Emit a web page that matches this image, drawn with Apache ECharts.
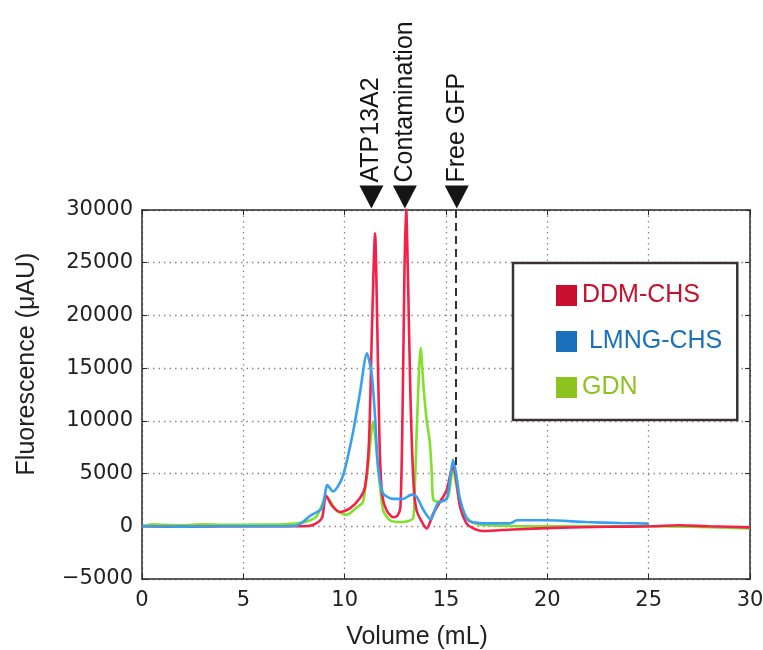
<!DOCTYPE html>
<html>
<head>
<meta charset="utf-8">
<title>FSEC</title>
<script src="https://cdn.jsdelivr.net/npm/echarts@6/dist/echarts.min.js"></script>
<style>
  html, body { margin: 0; padding: 0; background: #fff; }
  #main { width: 763px; height: 650px; }
</style>
</head>
<body>
<div id="main"></div>
<script>
// [volume mL, fluorescence uAU]
const ddmChs = [
  [0, 0], [2, -50], [4, 0], [6, 0], [7.5, 0], [8.3, 50], [8.7, 400], [8.9, 900], [9.08, 2900],
  [9.4, 1900], [9.77, 1350], [10.26, 1700], [10.75, 2650], [11.0, 3700], [11.2, 8000],
  [11.35, 19000], [11.5, 27800], [11.6, 20000], [11.72, 8000], [11.85, 3000], [12.07, 1500],
  [12.4, 850], [12.6, 1000], [12.75, 1800], [12.85, 10000], [12.95, 24000], [13.03, 30400],
  [13.12, 24000], [13.25, 12000], [13.4, 4000], [13.55, 1500], [13.9, 100], [14.05, -200],
  [14.37, 1200], [14.7, 2300], [15.03, 3400], [15.2, 4800], [15.35, 5800], [15.5, 4500],
  [15.7, 1800], [16.0, 300], [16.3, -150], [16.8, -450], [18.3, -300], [20.3, -150],
  [23, -50], [25.2, 0], [26.5, 100], [28, 0], [30, -100]
];
const lmngChs = [
  [0, 0], [2, -30], [4, 0], [6, 0], [7.6, 50], [8.3, 1000], [8.87, 1700], [9.15, 3900],
  [9.43, 3300], [9.9, 4700], [10.4, 8800], [10.75, 12600], [11.1, 16400], [11.33, 14500],
  [11.5, 10400], [11.65, 5600], [11.9, 3100], [12.4, 2600], [12.88, 2600], [13.3, 3000],
  [13.55, 2800], [13.9, 1500], [14.24, 650], [14.6, 2200], [15.03, 2600], [15.2, 4500],
  [15.35, 6300], [15.5, 5000], [15.7, 2500], [16.1, 550], [16.7, 300], [17, 280],
  [18.15, 280], [18.5, 570], [20, 570], [21.9, 400], [23.6, 310], [25, 250]
];
const gdn = [
  [0, 0], [0.5, 200], [1, 150], [2, 100], [3, 180], [4, 150], [5, 150], [6, 170], [7, 200],
  [7.8, 300], [8.6, 900], [9.1, 2800], [9.6, 1500], [10.1, 1100], [10.6, 1800], [10.9, 2300],
  [11.15, 5600], [11.4, 9900], [11.65, 5600], [11.9, 1500], [12.23, 570], [12.73, 400],
  [13.37, 750], [13.45, 3000], [13.55, 8800], [13.75, 16900], [13.9, 13000], [14.05, 10000],
  [14.2, 8000], [14.3, 5000], [14.38, 2500], [14.7, 2300], [15.1, 2800], [15.35, 5600],
  [15.5, 4000], [15.77, 1500], [16.27, 400], [17, 100], [20.3, 0], [25.2, 0], [27, -50], [30, -200]
];
const peakNames = ['ATP13A2', 'Contamination', 'Free GFP'];
const peakVolumes = [11.32, 12.97, 15.53];
const freeGfpLine = [15.5, 5500];

const tickFont = { fontFamily: 'DejaVu Sans', fontSize: 21, color: '#222' };
const axisCol = '#2a2a2a';

function baseAxis(pos, isX) {
  return {
    type: 'value',
    position: pos,
    min: isX ? 0 : -5000,
    max: isX ? 30 : 30000,
    interval: isX ? 5 : 5000,
    axisLine: { show: true, onZero: false, lineStyle: { color: axisCol, width: 1.5 } },
    axisTick: { show: true, inside: true, length: 5, lineStyle: { color: axisCol, width: 1 } },
    splitLine: { show: false },
    axisLabel: { show: false }
  };
}

const xMain = baseAxis('bottom', true);
xMain.axisLabel = Object.assign({ show: true, margin: 11 }, tickFont);
xMain.splitLine = { show: true, lineStyle: { color: '#888', type: [1.5, 4], width: 1.3 } };
const yMain = baseAxis('left', false);
yMain.axisLabel = Object.assign({
  show: true, margin: 9,
  formatter: v => (v < 0 ? '\u2212' + Math.abs(v) : String(v))
}, tickFont);
yMain.splitLine = { show: true, lineStyle: { color: '#888', type: [1.5, 4], width: 1.3 } };

const lineColors = { 'DDM-CHS': '#f5204a', 'LMNG-CHS': '#38a0f0', 'GDN': '#80e02c' };
const legendColors = { 'DDM-CHS': '#c8102e', 'LMNG-CHS': '#1a70bb', 'GDN': '#8cc31f' };

function mkSeries(name, data, z) {
  return {
    name: name,
    type: 'line',
    data: data,
    z: z,
    showSymbol: false,
    smooth: 0.25,
    clip: true,
    lineStyle: { color: lineColors[name], width: 2.6 },
    itemStyle: { color: lineColors[name] }
  };
}

const markerSeries = mkSeries('DDM-CHS', ddmChs, 3);
markerSeries.markPoint = {
  symbol: 'triangle',
  symbolSize: [24, 23],
  symbolRotate: 180,
  symbolOffset: [0, -13],
  itemStyle: { color: '#151515' },
  label: {
    show: true,
    position: 'top',
    distance: 3,
    rotate: 90,
    align: 'left',
    verticalAlign: 'middle',
    fontFamily: 'Liberation Sans',
    fontSize: 25,
    color: '#151515',
    formatter: p => p.name
  },
  data: peakNames.map((n, i) => ({ name: n, coord: [peakVolumes[i], 30000] }))
};
markerSeries.markLine = {
  silent: true,
  symbol: 'none',
  label: { show: false },
  lineStyle: { color: '#333', width: 2, type: [8, 5] },
  data: [[{ coord: [freeGfpLine[0], 30000] }, { coord: freeGfpLine }]]
};

const chart = echarts.init(document.getElementById('main'));
chart.setOption({
  animation: false,
  backgroundColor: '#fff',
  grid: { left: 142, right: 13, top: 210, bottom: 71, outerBoundsMode: 'none' },
  xAxis: [xMain, baseAxis('top', true)],
  yAxis: [yMain, baseAxis('right', false)],
  legend: {
    orient: 'vertical',
    left: 513,
    top: 263,
    selectedMode: false,
    backgroundColor: '#fff',
    borderColor: '#3a3333',
    borderWidth: 2.5,
    padding: [20, 15, 20, 43],
    itemWidth: 21,
    itemHeight: 21,
    itemGap: 21,
    icon: 'rect',
    formatter: n => (n === 'LMNG-CHS' ? ' ' + n : n),
    textStyle: { fontFamily: 'Liberation Sans', fontSize: 25, lineHeight: 25 },
    data: ['DDM-CHS', 'LMNG-CHS', 'GDN'].map(n => ({
      name: n,
      icon: 'rect',
      itemStyle: { color: legendColors[n] },
      textStyle: { color: legendColors[n] }
    }))
  },
  graphic: [
    {
      type: 'text', x: 417, y: 637,
      style: { text: 'Volume (mL)', fontFamily: 'Liberation Sans', fontSize: 25, fill: '#222', align: 'center', verticalAlign: 'middle' }
    },
    {
      type: 'text', x: 27, y: 364, rotation: Math.PI / 2,
      style: { text: 'Fluorescence (μAU)', fontFamily: 'Liberation Sans', fontSize: 25, fill: '#222', align: 'center', verticalAlign: 'middle' }
    }
  ],
  series: [
    mkSeries('GDN', gdn, 2),
    markerSeries,
    mkSeries('LMNG-CHS', lmngChs, 4)
  ]
});
</script>
</body>
</html>
